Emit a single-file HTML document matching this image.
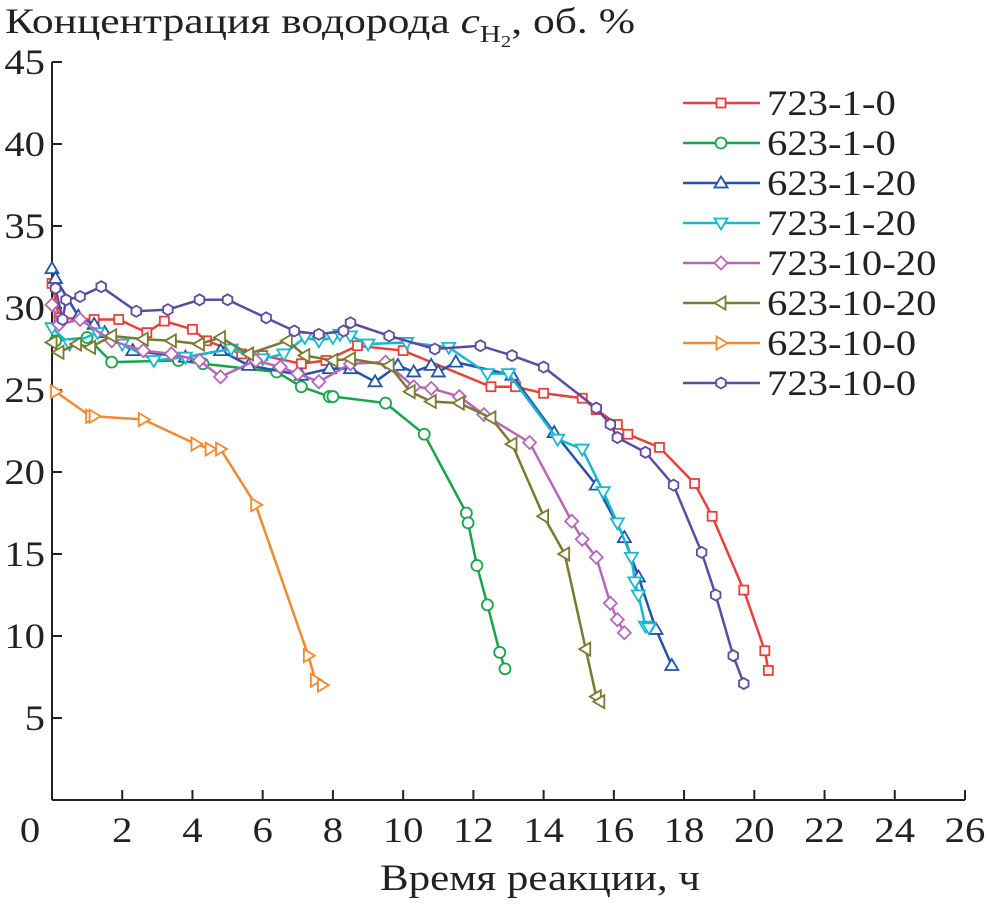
<!DOCTYPE html>
<html><head><meta charset="utf-8"><style>
body{margin:0;background:#fff}
svg text{font-family:"Liberation Serif",serif;fill:#222}
</style></head><body>
<svg id="chart" width="989" height="900" xmlns="http://www.w3.org/2000/svg">
<text x="5" y="33" font-size="36" textLength="630" lengthAdjust="spacingAndGlyphs">Концентрация водорода <tspan font-style="italic">c</tspan><tspan font-size="24" dy="9">H</tspan><tspan font-size="17" dy="5">2</tspan><tspan dy="-14">, об. %</tspan></text>
<text x="380" y="890" font-size="37" textLength="320" lengthAdjust="spacingAndGlyphs">Время реакции, ч</text>
<g id="axes"></g><g id="series"></g><g id="legend"></g>
</svg>
<script>
const xTicks=[0,2,4,6,8,10,12,14,16,18,20,22,24,26];
const yTicks=[5,10,15,20,25,30,35,40,45];
const names=["723-1-0","623-1-0","623-1-20","723-1-20","723-10-20","623-10-20","623-10-0","723-10-0"];
const colors=["#e8413c","#1aa34a","#2254a8","#1ab8d0","#b666b8","#7a7a2e","#f08a30","#5f4aa0"];
const markers=["square","circle","up","down","diamond","left","right","hex"];
const s723_1_0_x=[0,0.2,1.2,1.9,2.7,3.2,4.0,4.4,5.4,6.0,7.1,7.8,8.7,10.0,12.5,13.2,14.0,15.1,15.5,16.1,16.4,17.3,18.3,18.8,19.7,20.3,20.4];
const s723_1_0_y=[31.5,29.4,29.3,29.3,28.5,29.2,28.7,28.0,27.2,27.1,26.6,26.8,27.7,27.4,25.2,25.2,24.8,24.5,23.8,22.9,22.3,21.5,19.3,17.3,12.8,9.1,7.9];
const s623_1_0_x=[0.1,1.0,1.7,3.6,4.3,6.4,7.1,7.9,8.0,9.5,10.6,11.8,11.85,12.1,12.4,12.75,12.9];
const s623_1_0_y=[28.0,28.2,26.7,26.8,26.6,26.1,25.2,24.6,24.6,24.2,22.3,17.5,16.9,14.3,11.9,9.0,8.0];
const s623_1_20_x=[0,0.1,0.75,1.2,1.5,2.3,3.8,4.8,5.6,7.1,7.9,8.5,9.2,9.85,10.3,10.8,11.0,11.5,13.1,14.3,15.5,16.3,16.7,17.2,17.65];
const s623_1_20_y=[32.4,31.8,29.5,29.0,28.5,27.4,27.0,27.4,26.5,25.9,26.3,26.3,25.5,26.5,26.1,26.5,26.1,26.7,25.9,22.4,19.2,16.0,13.6,10.4,8.2];
const s723_1_20_x=[0,0.5,1.3,2.0,2.9,3.8,5.1,6.0,6.6,7.2,7.6,8.0,8.2,8.5,9.0,10.1,11.3,12.4,13.0,14.4,15.1,15.7,16.1,16.5,16.6,16.7,16.9,17.0];
const s723_1_20_y=[28.8,27.8,28.5,27.8,26.8,27.0,27.5,26.9,27.2,28.2,28.0,28.2,28.4,28.3,27.8,27.9,27.6,26.0,26.0,22.0,21.4,18.8,16.9,14.8,13.3,12.5,10.6,10.5];
const s723_10_20_x=[0,0.2,0.8,1.7,2.6,3.4,4.2,4.8,5.8,6.5,7.0,7.6,8.5,9.5,10.3,10.8,11.6,12.3,13.6,14.8,15.1,15.5,15.9,16.1,16.3];
const s723_10_20_y=[30.2,29.0,29.3,28.0,27.4,27.2,26.8,25.8,26.8,26.4,26.0,25.5,26.6,26.7,25.2,25.1,24.6,23.5,21.8,17.0,15.9,14.8,12.0,11.0,10.2];
const s623_10_20_x=[0,0.2,0.7,1.1,1.7,2.6,3.4,4.2,4.8,5.6,6.7,7.2,8.0,8.5,9.6,10.2,10.8,11.6,12.5,13.1,14.0,14.6,15.2,15.5,15.6];
const s623_10_20_y=[27.9,27.3,27.8,27.6,28.3,28.1,28.0,27.8,28.2,27.2,28.0,27.1,26.8,26.9,26.5,24.9,24.3,24.2,23.3,21.7,17.3,15.0,9.2,6.3,6.0];
const s623_10_0_x=[0.1,1.1,1.2,2.6,4.1,4.5,4.8,5.8,7.3,7.5,7.7];
const s623_10_0_y=[24.9,23.4,23.4,23.2,21.7,21.4,21.4,18.0,8.8,7.3,7.0];
const s723_10_0_x=[0.1,0.3,0.4,0.8,1.4,2.4,3.3,4.2,5.0,6.1,6.9,7.6,8.3,8.5,9.6,10.9,12.2,13.1,14.0,15.5,15.9,16.1,16.9,17.7,18.5,18.9,19.4,19.7];
const s723_10_0_y=[31.2,29.3,30.5,30.7,31.3,29.8,29.9,30.5,30.5,29.4,28.6,28.4,28.6,29.1,28.3,27.5,27.7,27.1,26.4,23.9,22.9,22.1,21.2,19.2,15.1,12.5,8.8,7.1];
const seriesX=[s723_1_0_x,s623_1_0_x,s623_1_20_x,s723_1_20_x,s723_10_20_x,s623_10_20_x,s623_10_0_x,s723_10_0_x];
const seriesY=[s723_1_0_y,s623_1_0_y,s623_1_20_y,s723_1_20_y,s723_10_20_y,s623_10_20_y,s623_10_0_y,s723_10_0_y];

const NS="http://www.w3.org/2000/svg";
const X0=52,X1=965,Y0=800,Y1=62;
const sx=v=>X0+(v-0)/26*(X1-X0);
const sy=v=>Y0-(v-0)/45*(Y0-Y1);
function mk(tag,attrs,parent){const e=document.createElementNS(NS,tag);for(const k in attrs)e.setAttribute(k,attrs[k]);parent.appendChild(e);return e;}
function txt(x,y,s,anchor,parent,size){
  const t=mk('text',{transform:'translate('+x+','+y+') scale(1.13,1)','font-size':size||36,'text-anchor':anchor},parent);
  t.textContent=s;return t;
}
const axes=document.getElementById('axes');
let l=mk('line',{x1:X0,y1:Y1,x2:X0,y2:Y0,stroke:'#222','stroke-width':2},axes);


l=mk('line',{x1:X0,y1:Y0,x2:X1,y2:Y0,stroke:'#222','stroke-width':2},axes);


xTicks.forEach(t=>{
  const tk=mk('line',{x1:sx(t),y1:Y0,x2:sx(t),y2:Y0-10,stroke:'#222','stroke-width':2},axes);
  
  
  const tx=txt(t===0?30:sx(t),Y0+42,String(t),'middle',axes);
  
  
});
yTicks.forEach(t=>{
  const tk=mk('line',{x1:X0,y1:sy(t),x2:X0+10,y2:sy(t),stroke:'#222','stroke-width':2},axes);
  
  
  const tx=txt(45,sy(t)+12,String(t),'end',axes);
  
  
});
function marker(type,x,y,c,parent){
  const r=5.5;let e;
  const st={fill:'#fff',stroke:c,'stroke-width':1.8};
  const poly=pts=>mk('polygon',Object.assign({points:pts.map(p=>p.join(',')).join(' ')},st),parent);
  if(type==='square')e=mk('rect',Object.assign({x:x-4.5,y:y-4.5,width:9,height:9},st),parent);
  else if(type==='circle')e=mk('circle',Object.assign({cx:x,cy:y,r:r},st),parent);
  else if(type==='up')e=poly([[x,y-r-1],[x+r+1,y+r-1],[x-r-1,y+r-1]]);
  else if(type==='down')e=poly([[x,y+r+1],[x+r+1,y-r+1],[x-r-1,y-r+1]]);
  else if(type==='left')e=poly([[x-r-1,y],[x+r-1,y-r-1],[x+r-1,y+r+1]]);
  else if(type==='right')e=poly([[x+r+1,y],[x-r+1,y-r-1],[x-r+1,y+r+1]]);
  else if(type==='diamond')e=poly([[x,y-r-1],[x+r+1,y],[x,y+r+1],[x-r-1,y]]);
  else {const p=[];for(let i=0;i<6;i++){const a=Math.PI/3*i+Math.PI/6;p.push([x+r*Math.cos(a),y+r*Math.sin(a)]);}e=poly(p);}
  return e;
}
const sg=document.getElementById('series');
for(let s=0;s<names.length;s++){
  const g=mk('g',{},sg);
  
  
  const pts=seriesX[s].map((v,i)=>sx(v)+','+sy(seriesY[s][i])).join(' ');
  const pl=mk('polyline',{points:pts,fill:'none',stroke:colors[s],'stroke-width':2.5},g);
  
  
  seriesX[s].forEach((v,i)=>{
    const m=marker(markers[s],sx(v),sy(seriesY[s][i]),colors[s],g);
    
    
  });
}
const lg=document.getElementById('legend');
names.forEach((n,i)=>{
  const y=103+i*40;
  const g=mk('g',{},lg);
  
  
  mk('line',{x1:683,y1:y,x2:760,y2:y,stroke:colors[i],'stroke-width':2.5},g);
  marker(markers[i],721,y,colors[i],g);
  txt(767,y+12,n,'start',g);
});
</script>
</body></html>
